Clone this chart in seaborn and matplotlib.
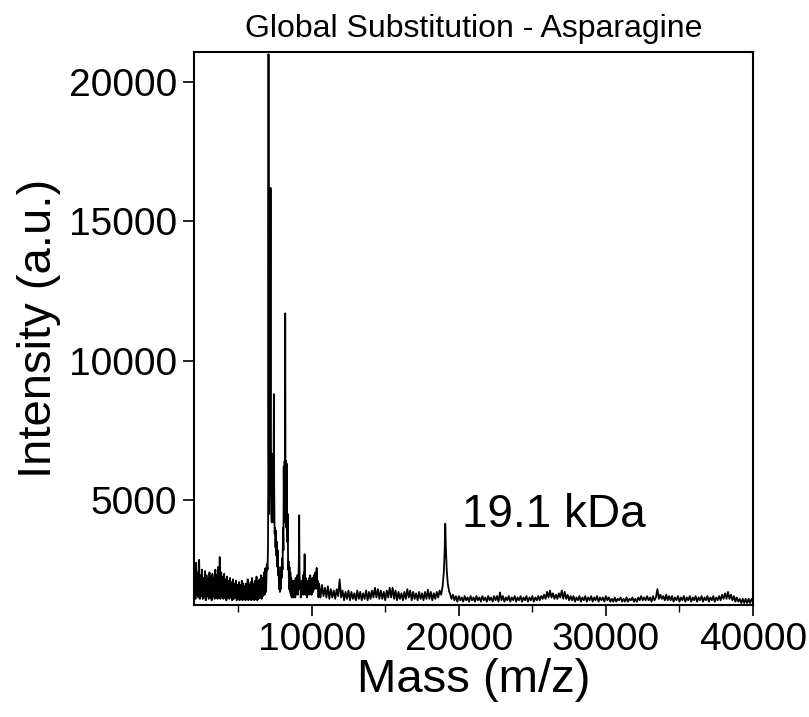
import numpy as np
import pandas as pd
import matplotlib
matplotlib.use("Agg")
import matplotlib.pyplot as plt
import seaborn as sns
from matplotlib.ticker import MultipleLocator

# ---------------- data ----------------
# low-mass noise region, sampled every 50 Da from 2000 to 6950
noise_mass = np.arange(2000, 7000, 50)
noise_int = [
    1500, 2600, 1450, 2750, 1600, 2400, 1500, 2850, 1450, 2300,
    1550, 2500, 1450, 2200, 1500, 2450, 1400, 2300, 1550, 2150,
    1450, 2400, 1500, 2250, 1400, 2350, 1550, 2200, 1450, 2500,
    1500, 2300, 1450, 2600, 1500, 2950, 1450, 2400, 1550, 2250,
    1450, 2350, 1500, 2150, 1400, 2250, 1500, 2100, 1450, 2200,
    1500, 2050, 1400, 2150, 1450, 2000, 1500, 2100, 1400, 1950,
    1450, 2050, 1400, 1950, 1450, 2100, 1400, 2000, 1450, 1900,
    1400, 2000, 1450, 2150, 1400, 1950, 1450, 2050, 1400, 2200,
    1450, 2000, 1400, 2100, 1450, 2250, 1400, 2050, 1450, 2150,
    1500, 2300, 1450, 2200, 1550, 2400, 1600, 2550, 1700, 2700,
]

# main peak cluster 7000 - 10500 Da
cluster_mass = [
    7000, 7030, 7050, 7065, 7080, 7110, 7140, 7160, 7185, 7205,
    7225, 7250, 7280, 7310, 7330, 7350, 7380, 7410, 7430, 7450,
    7480, 7510, 7540, 7570, 7600, 7630, 7660, 7690, 7720, 7750,
    7780, 7810, 7840, 7870, 7900, 7930, 7960, 7990, 8020, 8050,
    8080, 8100, 8130, 8160, 8180, 8200, 8220, 8250, 8280, 8310,
    8340, 8370, 8400, 8430, 8460, 8490, 8520, 8550, 8580, 8610,
    8640, 8670, 8700, 8730, 8760, 8790, 8820, 8850, 8880, 8910,
    8940, 8970, 9000, 9030, 9060, 9100, 9130, 9150, 9170, 9200,
    9230, 9260, 9290, 9320, 9350, 9380, 9410, 9440, 9470, 9500,
    9520, 9540, 9570, 9600, 9630, 9660, 9690, 9720, 9750, 9780,
    9810, 9840, 9870, 9900, 9930, 9960, 10000, 10050, 10100, 10150,
    10200, 10250, 10300, 10340, 10380, 10420, 10460, 10500,
]
cluster_int = [
    2500, 3300, 6000, 21000, 7000, 4500, 6500, 5200, 9000, 16200,
    8000, 5000, 4200, 5500, 6650, 4800, 4200, 6000, 8800, 5500,
    3800, 4000, 3300, 3900, 3000, 3500, 2600, 3200, 2300, 2600,
    1800, 2400, 1700, 2300, 1800, 2600, 2200, 2900, 2500, 4000,
    3200, 6200, 4200, 6400, 5800, 11700, 6000, 6400, 4000, 6300,
    3500, 4500, 2500, 2800, 1800, 2600, 1700, 2400, 1600, 2200,
    1500, 2100, 1600, 2000, 1500, 2100, 1600, 2000, 1500, 2200,
    1600, 2000, 1700, 2300, 1600, 2200, 2800, 4450, 2600, 1800,
    2100, 1500, 2000, 1600, 2100, 1700, 2300, 1600, 2400, 2100,
    3050, 2000, 1600, 2200, 1600, 2000, 1500, 2100, 1600, 2000,
    1700, 2200, 1600, 2300, 1700, 2100, 1600, 2200, 1700, 2300,
    1800, 2400, 1900, 2560, 1800, 2100, 1500, 2000,
]

# baseline 10600 - 18800 Da, every 100 Da
mid_mass = np.arange(10600, 18900, 100)
mid_int = [
    1500, 1950, 1550, 1850, 1500, 1900, 1450, 1800, 1500, 1750,
    1450, 1800, 1550, 2150, 1500, 1750, 1400, 1700, 1450, 1750,
    1400, 1700, 1450, 1650, 1400, 1750, 1450, 1700, 1400, 1650,
    1450, 1750, 1400, 1700, 1450, 1750, 1500, 1850, 1500, 1800,
    1450, 1750, 1450, 1700, 1400, 1750, 1500, 1850, 1500, 1850,
    1450, 1750, 1400, 1700, 1450, 1650, 1400, 1700, 1450, 1800,
    1500, 1750, 1400, 1700, 1450, 1650, 1400, 1700, 1450, 1650,
    1400, 1700, 1450, 1780, 1450, 1700, 1400, 1650, 1450, 1700,
    1500, 1750, 1600,
]

# 19.1 kDa peak
peak_mass = [18900, 18980, 19040, 19080, 19120, 19180, 19250, 19350]
peak_int = [1900, 2400, 3200, 4150, 3300, 2500, 2000, 1700]

# high-mass baseline 19400 - 40000 Da, every 100 Da
high_mass = np.arange(19400, 40100, 100)
high_int = [
    1650, 1450, 1600, 1400, 1550, 1350, 1550, 1400, 1500, 1350,
    1550, 1400, 1500, 1350, 1550, 1400, 1500, 1350, 1550, 1400,
    1500, 1350, 1550, 1400, 1500, 1350, 1550, 1400, 1500, 1350,
    1550, 1400, 1550, 1350, 1680, 1400, 1550, 1350, 1500, 1400,
    1550, 1350, 1500, 1400, 1550, 1350, 1500, 1400, 1550, 1350,
    1500, 1400, 1550, 1350, 1500, 1400, 1550, 1350, 1500, 1400,
    1550, 1400, 1550, 1450, 1600, 1450, 1700, 1500, 1750, 1500,
    1650, 1450, 1600, 1450, 1650, 1500, 1750, 1450, 1700, 1450,
    1600, 1400, 1550, 1400, 1550, 1350, 1500, 1400, 1550, 1350,
    1500, 1400, 1550, 1350, 1500, 1400, 1550, 1350, 1500, 1400,
    1550, 1350, 1500, 1400, 1500, 1350, 1550, 1400, 1500, 1350,
    1450, 1350, 1500, 1350, 1450, 1400, 1500, 1350, 1450, 1350,
    1500, 1350, 1450, 1400, 1500, 1350, 1450, 1350, 1500, 1400,
    1550, 1400, 1500, 1400, 1550, 1400, 1500, 1350, 1550, 1400,
    1500, 1800, 1450, 1600, 1450, 1550, 1400, 1600, 1400, 1550,
    1400, 1550, 1350, 1500, 1400, 1550, 1350, 1500, 1400, 1550,
    1350, 1500, 1400, 1550, 1350, 1500, 1400, 1550, 1350, 1500,
    1400, 1550, 1350, 1500, 1400, 1550, 1350, 1500, 1400, 1550,
    1350, 1500, 1400, 1550, 1400, 1600, 1450, 1650, 1450, 1700,
    1450, 1600, 1400, 1550, 1350, 1500, 1350, 1450, 1300, 1450,
    1300, 1450, 1300, 1450, 1300, 1450, 1350,
]

x_ticks = [10000, 20000, 30000, 40000]
y_ticks = [5000, 10000, 15000, 20000]
title_text = "Global Substitution - Asparagine"
annot_text = "19.1 kDa"

# ---------------- build table ----------------
mass = np.concatenate([noise_mass, cluster_mass, mid_mass, peak_mass, high_mass])
intensity = np.concatenate([noise_int, cluster_int, mid_int, peak_int, high_int])
df = pd.DataFrame({"mass": mass, "intensity": intensity}).sort_values("mass")

# ---------------- plot ----------------
sns.set_style("ticks")
plt.rcParams["font.family"] = ["Liberation Sans", "DejaVu Sans"]
plt.rcParams["text.color"] = "black"
plt.rcParams["axes.labelcolor"] = "black"
plt.rcParams["xtick.color"] = "black"
plt.rcParams["ytick.color"] = "black"

fig = plt.figure(figsize=(8.09, 7.17), dpi=100)
ax = fig.add_axes([0.2398, 0.1562, 0.6910, 0.7713])

sns.lineplot(data=df, x="mass", y="intensity", ax=ax, color="black",
             linewidth=1.3, estimator=None, sort=False)

ax.set_xlim(2000, 40000)
ax.set_ylim(1230, 21080)
ax.set_xticks(x_ticks)
ax.set_yticks(y_ticks)
ax.xaxis.set_minor_locator(MultipleLocator(5000))
ax.tick_params(axis="both", which="major", direction="out", length=8, width=1.2,
               labelsize=28, pad=4, colors="black")
ax.tick_params(axis="x", which="minor", direction="out", length=5, width=1.0,
               colors="black")
for s in ax.spines.values():
    s.set_visible(True)
    s.set_linewidth(1.5)
    s.set_color("black")

ax.set_xlabel("Mass (m/z)", fontsize=34, labelpad=0, color="black")
ax.set_ylabel("Intensity (a.u.)", fontsize=34, labelpad=6, color="black")
ax.set_title(title_text, fontsize=23, pad=11, color="black")
ax.text(20230, 4040, annot_text, fontsize=33, ha="left", va="baseline",
        color="black")

fig.savefig("out.png", dpi=100)
